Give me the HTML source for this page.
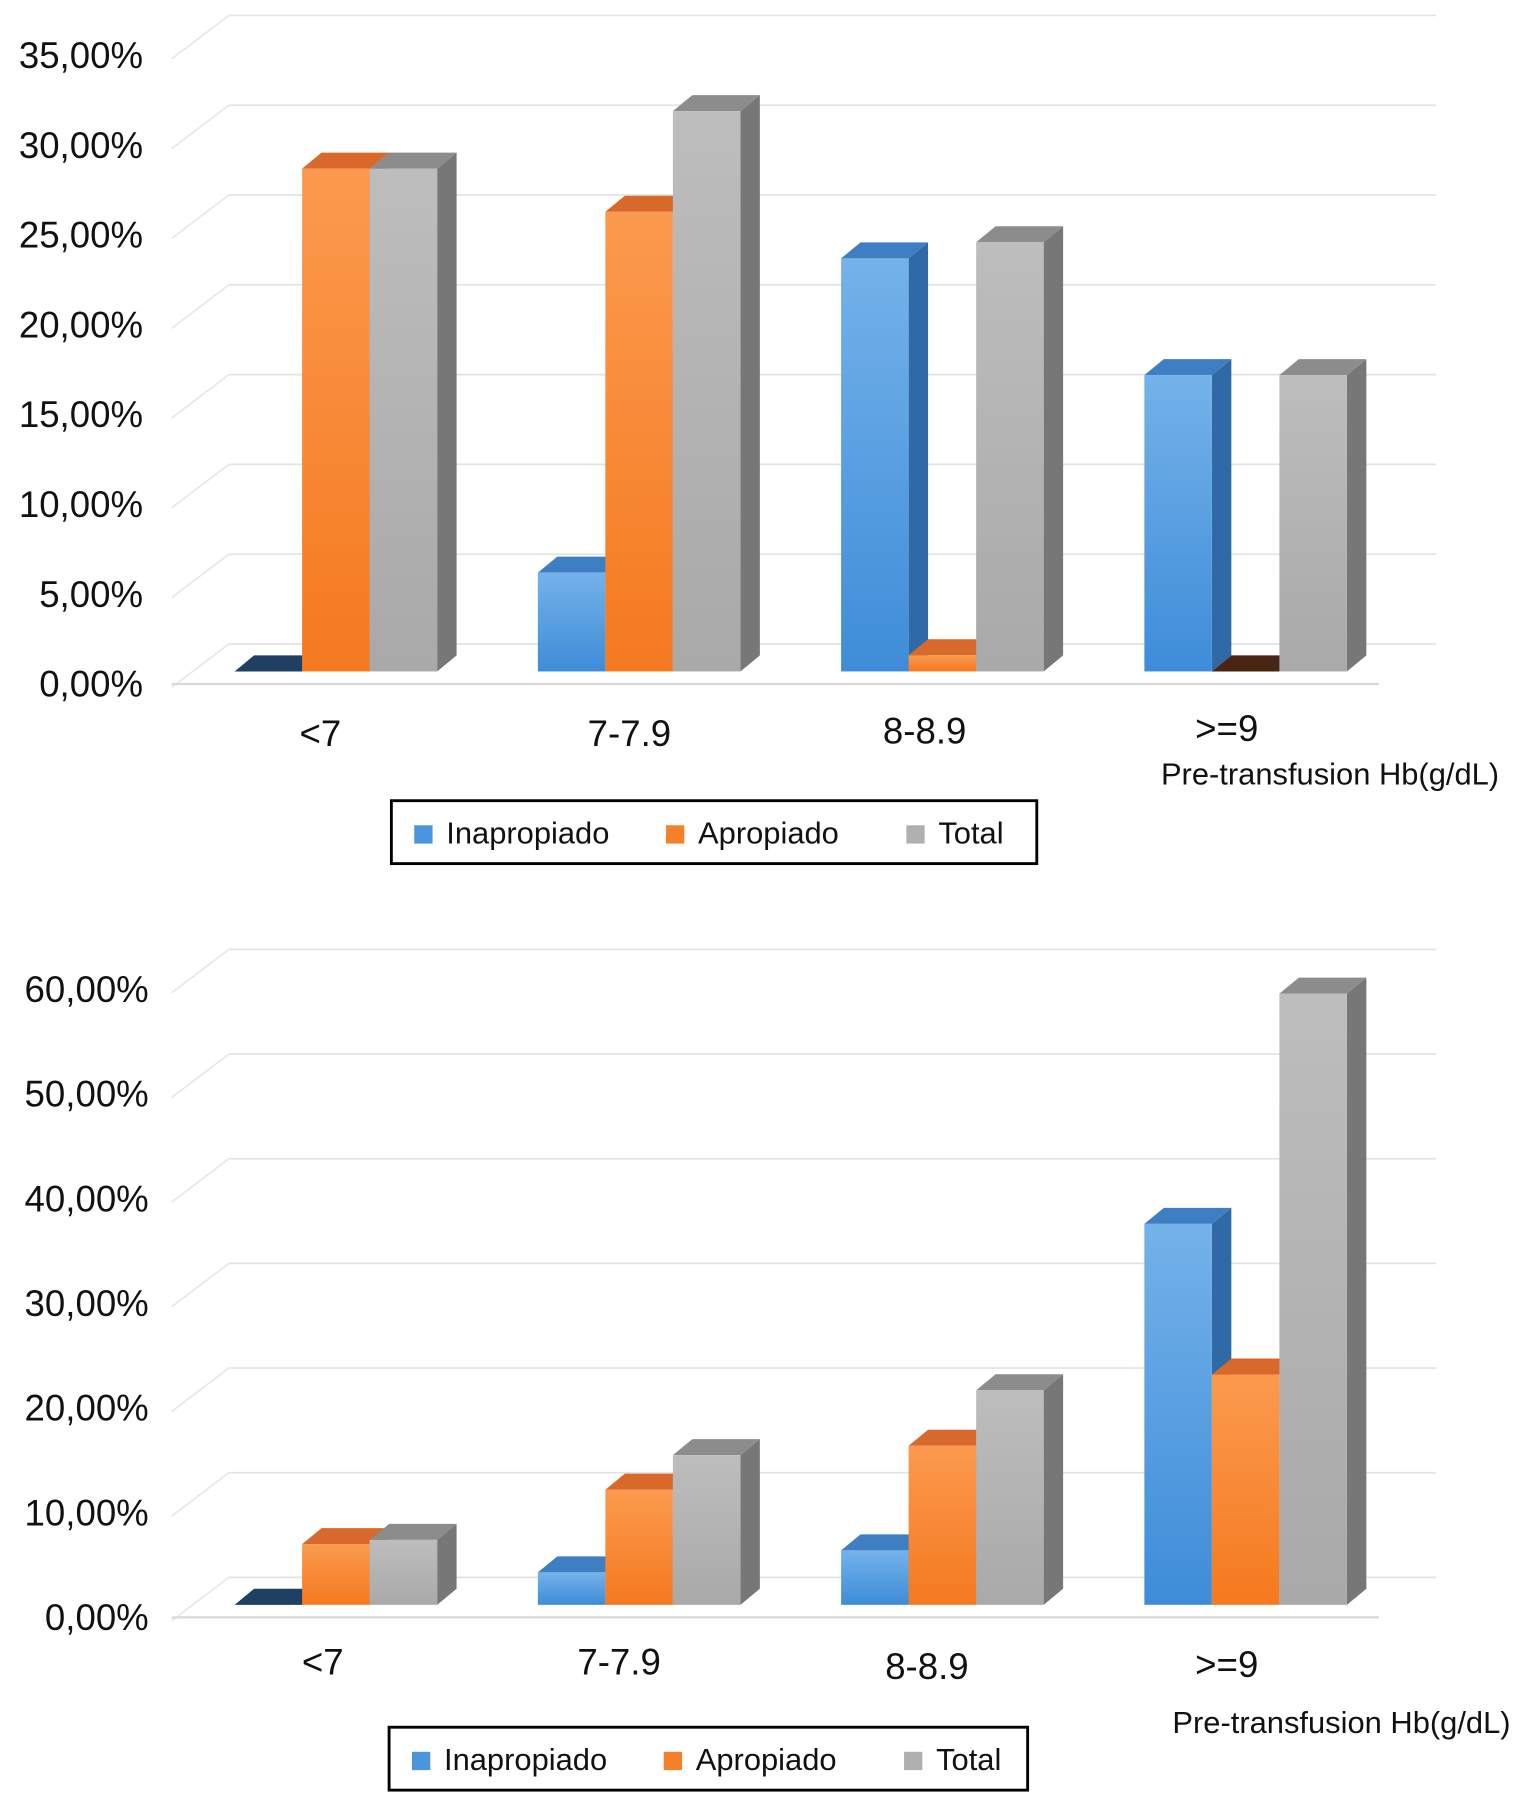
<!DOCTYPE html>
<html><head><meta charset="utf-8"><style>
html,body{margin:0;padding:0;background:#fff;}
svg{display:block;font-family:"Liberation Sans",sans-serif;}
</style></head><body>
<svg id="svg" width="1522" height="1805" viewBox="0 0 1330 1578" preserveAspectRatio="none" xmlns="http://www.w3.org/2000/svg">
<defs>
<linearGradient id="gb" x1="0" y1="0" x2="0" y2="1"><stop offset="0" stop-color="#74b2ea"/><stop offset="1" stop-color="#3e8cd8"/></linearGradient>
<linearGradient id="go" x1="0" y1="0" x2="0" y2="1"><stop offset="0" stop-color="#fb9a4e"/><stop offset="1" stop-color="#f5791f"/></linearGradient>
<linearGradient id="gg" x1="0" y1="0" x2="0" y2="1"><stop offset="0" stop-color="#bdbdbd"/><stop offset="1" stop-color="#a9a9a9"/></linearGradient>
</defs>
</svg>
<script>
const categories = ["<7", "7-7.9", "8-8.9", ">=9"];
const seriesNames = ["Inapropiado", "Apropiado", "Total"];
const chart1Inap = [0, 5.5, 23.0, 16.5];
const chart1Aprop = [28.0, 25.6, 0.9, 0];
const chart1Total = [28.0, 31.2, 23.9, 16.5];
const chart1Ticks = ["0,00%", "5,00%", "10,00%", "15,00%", "20,00%", "25,00%", "30,00%", "35,00%"];
const chart2Inap = [0.2, 3.1, 5.2, 36.4];
const chart2Aprop = [5.8, 11.0, 15.2, 22.0];
const chart2Total = [6.2, 14.3, 20.5, 58.4];
const chart2Ticks = ["0,00%", "10,00%", "20,00%", "30,00%", "40,00%", "50,00%", "60,00%"];

const NS = "http://www.w3.org/2000/svg";
const svg = document.getElementById('svg');
function mk(tag, attrs, parent) {
  const e = document.createElementNS(NS, tag);
  for (const k in attrs) e.setAttribute(k, attrs[k]);
  (parent || svg).appendChild(e);
  return e;
}
const fills = [["url(#gb)", "#2f6aa6", "#3d7fc2"], ["url(#go)", "#c2581a", "#d9692a"], ["url(#gg)", "#777", "#8c8c8c"]];
const legendSw = ["#4a95dd", "#f5802a", "#b0b0b0"];

function drawChart(cfg) {
  const g = mk('g', {});
  
  
  const dx = 17, dy = 14;
  const y = v => cfg.base - v * cfg.pxPer;
  for (let i = 0; i < cfg.ticks.length + cfg.extraGrid; i++) {
    const v = i * cfg.step;
    const gy = y(v) - dy - 10;
    const ln = mk('line', {x1: 200, y1: gy, x2: 1255, y2: gy, stroke: "#e3e3e3", "stroke-width": 1.5}, g);
    
    
    const dg = mk('line', {x1: 200, y1: gy, x2: 150, y2: gy + 38, stroke: "#e8e8e8", "stroke-width": 1.5}, g);
    
    
  }
  const fl = mk('line', {x1: 150, y1: cfg.base + 11, x2: 1205, y2: cfg.base + 11, stroke: "#d9d9d9", "stroke-width": 2}, g);
  
  
  cfg.ticks.forEach((t, i) => {
    const tx = mk('text', {x: cfg.labelX, y: y(i * cfg.step) + 22, "text-anchor": "end", "font-size": 32, fill: "#111"}, g);
    tx.textContent = t;
    
    
  });
  const groupX = [205, 470, 735, 1000];
  const bw = 59;
  categories.forEach((c, ci) => {
    cfg.series.forEach((arr, si) => {
      const x0 = groupX[ci] + si * bw;
      const top = y(arr[ci]);
      const b = cfg.base;
      const bg = mk('g', {}, g);
      
      
      const h = b - top;
      if (h < 3) {
        mk('polygon', {points: `${x0},${b} ${x0+bw},${b} ${x0+bw+dx},${b-dy} ${x0+dx},${b-dy}`, fill: si===0?"#1f3f63":"#4a2412"}, bg);
        return;
      }
      mk('polygon', {points: `${x0+bw},${top} ${x0+bw+dx},${top-dy} ${x0+bw+dx},${b-dy} ${x0+bw},${b}`, fill: fills[si][1]}, bg);
      mk('polygon', {points: `${x0},${top} ${x0+dx},${top-dy} ${x0+bw+dx},${top-dy} ${x0+bw},${top}`, fill: fills[si][2]}, bg);
      mk('rect', {x: x0, y: top, width: bw, height: h, fill: fills[si][0]}, bg);
    });
    const cl = mk('text', {x: cfg.catX[ci], y: cfg.catY[ci], "text-anchor": "middle", "font-size": 32, fill: "#111"}, g);
    cl.textContent = c;
    
    
  });
  const at = mk('text', {x: cfg.axisTitle[0], y: cfg.axisTitle[1], "text-anchor": "end", "font-size": 27, fill: "#111"}, g);
  at.textContent = "Pre-transfusion Hb(g/dL)";
  
  
  const lg = mk('g', {}, g);
  
  
  const [lx, ly, lw, lh] = cfg.legend;
  mk('rect', {x: lx, y: ly, width: lw, height: lh, fill: "#fff", stroke: "#000", "stroke-width": 2.5}, lg);
  const offs = [20, 240, 450];
  seriesNames.forEach((n, i) => {
    const e = mk('g', {}, lg);
    
    
    mk('rect', {x: lx + offs[i], y: ly + lh/2 - 6, width: 16, height: 16, fill: legendSw[i]}, e);
    const t = mk('text', {x: lx + offs[i] + 28, y: ly + lh/2 + 10, "font-size": 27, fill: "#111"}, e);
    t.textContent = n;
  });
}
drawChart({name: 'chart-top', base: 587, pxPer: 15.7, step: 5, ticks: chart1Ticks, labelX: 125, extraGrid: 1,
  series: [chart1Inap, chart1Aprop, chart1Total],
  catX: [280, 550, 808, 1072], catY: [652, 652, 650, 648], axisTitle: [1310, 686], legend: [342, 700, 564, 55]});
drawChart({name: 'chart-bottom', base: 1403, pxPer: 9.15, step: 10, ticks: chart2Ticks, labelX: 130, extraGrid: 0,
  series: [chart2Inap, chart2Aprop, chart2Total],
  catX: [282, 541, 810, 1072], catY: [1464, 1464, 1468, 1466], axisTitle: [1320, 1515], legend: [340, 1510, 558, 55]});
</script>
</body></html>
